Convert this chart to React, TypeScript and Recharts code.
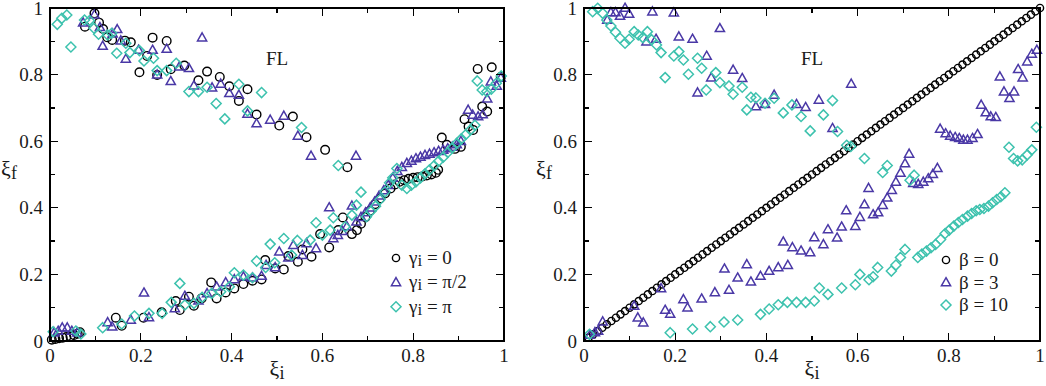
import { ScatterChart, Scatter, XAxis, YAxis } from 'recharts'

// tick values shared by both panels (major = labelled)
const tickValues = [0, 0.1, 0.2, 0.3, 0.4, 0.5, 0.6, 0.7, 0.8, 0.9, 1]
const majorTicks = [0, 0.2, 0.4, 0.6, 0.8, 1]

// ---- left panel: gamma_i series, [xi_i, xi_f]
const gamma0 = [
  [0.004, 0.004], [0.012, 0.006], [0.02, 0.008], [0.028, 0.01], [0.036, 0.012], [0.045, 0.014], [0.053, 0.018], [0.061, 0.022], [0.066, 0.026],
  [0.077, 0.944], [0.098, 0.984], [0.108, 0.956], [0.117, 0.937], [0.126, 0.912], [0.137, 0.904], [0.145, 0.07], [0.158, 0.046], [0.165, 0.902],
  [0.178, 0.897], [0.197, 0.807], [0.206, 0.07], [0.214, 0.856], [0.226, 0.911], [0.236, 0.799], [0.246, 0.086], [0.257, 0.901], [0.266, 0.816],
  [0.277, 0.12], [0.286, 0.093], [0.296, 0.827], [0.306, 0.133], [0.317, 0.106], [0.327, 0.783], [0.334, 0.128], [0.346, 0.809], [0.355, 0.176],
  [0.367, 0.128], [0.374, 0.793], [0.387, 0.146], [0.395, 0.765], [0.406, 0.158], [0.416, 0.721], [0.426, 0.171], [0.435, 0.756], [0.446, 0.181],
  [0.455, 0.68], [0.466, 0.185], [0.474, 0.243], [0.496, 0.218], [0.505, 0.647], [0.515, 0.215], [0.525, 0.255], [0.535, 0.674], [0.546, 0.238],
  [0.556, 0.275], [0.565, 0.612], [0.576, 0.253], [0.595, 0.321], [0.606, 0.574], [0.615, 0.281], [0.635, 0.333], [0.645, 0.371], [0.655, 0.522],
  [0.665, 0.321], [0.676, 0.333], [0.685, 0.352], [0.695, 0.372], [0.705, 0.391], [0.716, 0.411], [0.727, 0.428], [0.738, 0.443], [0.75, 0.458],
  [0.76, 0.47], [0.77, 0.478], [0.78, 0.483], [0.79, 0.487], [0.8, 0.49], [0.81, 0.492], [0.82, 0.494], [0.83, 0.497], [0.84, 0.5], [0.85, 0.505],
  [0.855, 0.514], [0.863, 0.611], [0.874, 0.589], [0.892, 0.577], [0.905, 0.583], [0.913, 0.666], [0.922, 0.644], [0.932, 0.634], [0.942, 0.817],
  [0.952, 0.704], [0.963, 0.689], [0.973, 0.822], [0.993, 0.793],
]
const gammaHalfPi = [
  [0.009, 0.025], [0.018, 0.03], [0.027, 0.04], [0.038, 0.04], [0.048, 0.03], [0.06, 0.025], [0.073, 0.956], [0.098, 0.98], [0.11, 0.942],
  [0.116, 0.886], [0.127, 0.056], [0.137, 0.043], [0.138, 0.923], [0.148, 0.936], [0.156, 0.902], [0.167, 0.847], [0.178, 0.063], [0.195, 0.874],
  [0.207, 0.145], [0.218, 0.071], [0.226, 0.874], [0.236, 0.8], [0.257, 0.877], [0.266, 0.78], [0.275, 0.098], [0.285, 0.824], [0.297, 0.135],
  [0.306, 0.819], [0.317, 0.767], [0.327, 0.121], [0.335, 0.911], [0.346, 0.143], [0.357, 0.761], [0.367, 0.163], [0.376, 0.772], [0.387, 0.176],
  [0.395, 0.744], [0.406, 0.185], [0.416, 0.739], [0.426, 0.193], [0.435, 0.682], [0.446, 0.19], [0.455, 0.653], [0.466, 0.195], [0.476, 0.228],
  [0.485, 0.664], [0.496, 0.221], [0.505, 0.268], [0.515, 0.676], [0.525, 0.25], [0.536, 0.288], [0.546, 0.616], [0.556, 0.258], [0.565, 0.293],
  [0.575, 0.556], [0.586, 0.278], [0.615, 0.401], [0.624, 0.308], [0.634, 0.318], [0.644, 0.33], [0.654, 0.344], [0.665, 0.406], [0.674, 0.556],
  [0.675, 0.358], [0.685, 0.372], [0.695, 0.386], [0.705, 0.4], [0.715, 0.418], [0.725, 0.436], [0.735, 0.452], [0.745, 0.468], [0.755, 0.49],
  [0.765, 0.51], [0.775, 0.522], [0.786, 0.534], [0.796, 0.541], [0.806, 0.548], [0.816, 0.553], [0.826, 0.558], [0.836, 0.562], [0.846, 0.566],
  [0.856, 0.57], [0.866, 0.574], [0.876, 0.578], [0.886, 0.583], [0.896, 0.59], [0.905, 0.6], [0.921, 0.694], [0.931, 0.679], [0.943, 0.674],
  [0.953, 0.68], [0.963, 0.728], [0.971, 0.779], [0.984, 0.766], [0.993, 0.79],
]
const gammaPi = [
  [0.007, 0.028], [0.016, 0.951], [0.026, 0.969], [0.037, 0.979], [0.046, 0.883], [0.057, 0.03], [0.068, 0.021], [0.076, 0.964], [0.087, 0.962],
  [0.097, 0.939], [0.107, 0.921], [0.116, 0.04], [0.127, 0.919], [0.136, 0.924], [0.147, 0.864], [0.158, 0.051], [0.167, 0.894], [0.176, 0.866],
  [0.186, 0.075], [0.197, 0.872], [0.207, 0.841], [0.218, 0.083], [0.228, 0.849], [0.236, 0.812], [0.247, 0.083], [0.257, 0.812], [0.267, 0.116],
  [0.278, 0.834], [0.286, 0.173], [0.297, 0.108], [0.306, 0.749], [0.317, 0.113], [0.327, 0.749], [0.335, 0.131], [0.346, 0.762], [0.356, 0.143],
  [0.366, 0.713], [0.376, 0.148], [0.385, 0.667], [0.395, 0.163], [0.406, 0.205], [0.416, 0.771], [0.426, 0.198], [0.435, 0.691], [0.446, 0.19],
  [0.455, 0.24], [0.466, 0.746], [0.475, 0.221], [0.485, 0.291], [0.495, 0.235], [0.515, 0.308], [0.532, 0.258], [0.545, 0.302], [0.554, 0.641],
  [0.573, 0.303], [0.586, 0.355], [0.6, 0.318], [0.617, 0.333], [0.624, 0.37], [0.635, 0.527], [0.65, 0.343], [0.665, 0.378], [0.675, 0.408],
  [0.685, 0.447], [0.697, 0.373], [0.707, 0.39], [0.717, 0.405], [0.727, 0.425], [0.738, 0.448], [0.748, 0.475], [0.755, 0.49], [0.764, 0.518],
  [0.775, 0.468], [0.786, 0.458], [0.796, 0.468], [0.806, 0.478], [0.816, 0.49], [0.826, 0.502], [0.836, 0.514], [0.846, 0.526], [0.856, 0.54],
  [0.866, 0.552], [0.876, 0.566], [0.886, 0.58], [0.896, 0.594], [0.906, 0.607], [0.916, 0.62], [0.926, 0.634], [0.936, 0.648], [0.941, 0.781],
  [0.952, 0.754], [0.962, 0.749], [0.972, 0.756], [0.983, 0.774], [0.994, 0.796],
]

// ---- right panel: beta series
// beta = 0: every point sits on the diagonal, xi_f equal to xi_i
const beta0Xi = [
  0.01, 0.02, 0.03, 0.04, 0.05, 0.06, 0.07, 0.08, 0.09, 0.1, 0.11, 0.12, 0.13, 0.14, 0.15, 0.16, 0.17, 0.18, 0.19, 0.2,
  0.21, 0.22, 0.23, 0.24, 0.25, 0.26, 0.27, 0.28, 0.29, 0.3, 0.31, 0.32, 0.33, 0.34, 0.35, 0.36, 0.37, 0.38, 0.39, 0.4,
  0.41, 0.42, 0.43, 0.44, 0.45, 0.46, 0.47, 0.48, 0.49, 0.5, 0.51, 0.52, 0.53, 0.54, 0.55, 0.56, 0.57, 0.58, 0.59, 0.6,
  0.61, 0.62, 0.63, 0.64, 0.65, 0.66, 0.67, 0.68, 0.69, 0.7, 0.71, 0.72, 0.73, 0.74, 0.75, 0.76, 0.77, 0.78, 0.79, 0.8,
  0.81, 0.82, 0.83, 0.84, 0.85, 0.86, 0.87, 0.88, 0.89, 0.9, 0.91, 0.92, 0.93, 0.94, 0.95, 0.96, 0.97, 0.98, 0.99, 1.0,
]
const beta3 = [
  [0.013, 0.018], [0.024, 0.026], [0.031, 0.03], [0.041, 0.058], [0.051, 0.964], [0.059, 0.987], [0.069, 0.987], [0.079, 0.976], [0.09, 1.0],
  [0.099, 0.982], [0.11, 0.105], [0.118, 0.07], [0.13, 0.055], [0.137, 0.899], [0.15, 0.989], [0.158, 0.907], [0.169, 0.158], [0.178, 0.093],
  [0.189, 0.081], [0.197, 0.986], [0.208, 0.914], [0.218, 0.125], [0.227, 0.1], [0.238, 0.907], [0.249, 0.746], [0.258, 0.127], [0.269, 0.856],
  [0.279, 0.791], [0.287, 0.146], [0.298, 0.939], [0.308, 0.217], [0.318, 0.153], [0.327, 0.814], [0.337, 0.19], [0.347, 0.789], [0.357, 0.23],
  [0.366, 0.178], [0.377, 0.704], [0.387, 0.195], [0.397, 0.711], [0.406, 0.21], [0.417, 0.739], [0.426, 0.221], [0.437, 0.298], [0.447, 0.228],
  [0.457, 0.281], [0.466, 0.711], [0.476, 0.271], [0.486, 0.702], [0.496, 0.266], [0.505, 0.311], [0.515, 0.724], [0.525, 0.29], [0.535, 0.335],
  [0.545, 0.639], [0.555, 0.31], [0.565, 0.343], [0.575, 0.392], [0.586, 0.772], [0.595, 0.345], [0.605, 0.372], [0.615, 0.41], [0.624, 0.459],
  [0.634, 0.38], [0.645, 0.386], [0.655, 0.408], [0.665, 0.43], [0.675, 0.453], [0.684, 0.478], [0.694, 0.505], [0.704, 0.533], [0.713, 0.562],
  [0.722, 0.474], [0.733, 0.471], [0.744, 0.478], [0.755, 0.488], [0.765, 0.501], [0.775, 0.519], [0.781, 0.637], [0.793, 0.623], [0.803, 0.616],
  [0.814, 0.612], [0.823, 0.609], [0.832, 0.604], [0.841, 0.604], [0.852, 0.609], [0.863, 0.621], [0.871, 0.709], [0.881, 0.686], [0.892, 0.674],
  [0.903, 0.672], [0.912, 0.794], [0.921, 0.749], [0.933, 0.729], [0.943, 0.749], [0.952, 0.816], [0.962, 0.791], [0.972, 0.839], [0.982, 0.862],
  [0.993, 0.874],
]
const beta10 = [
  [0.012, 0.02], [0.019, 0.989], [0.03, 0.999], [0.041, 0.984], [0.05, 0.964], [0.059, 0.946], [0.069, 0.927], [0.079, 0.909], [0.09, 0.894],
  [0.099, 0.906], [0.11, 0.929], [0.119, 0.919], [0.129, 0.911], [0.139, 0.929], [0.148, 0.905], [0.159, 0.889], [0.169, 0.866], [0.178, 0.791],
  [0.189, 0.025], [0.197, 0.856], [0.208, 0.869], [0.218, 0.844], [0.229, 0.801], [0.238, 0.036], [0.249, 0.849], [0.258, 0.819], [0.268, 0.754],
  [0.277, 0.043], [0.289, 0.806], [0.298, 0.776], [0.307, 0.057], [0.318, 0.766], [0.327, 0.741], [0.337, 0.063], [0.347, 0.762], [0.357, 0.694],
  [0.366, 0.732], [0.377, 0.73], [0.387, 0.08], [0.397, 0.714], [0.406, 0.096], [0.417, 0.729], [0.426, 0.109], [0.437, 0.685], [0.446, 0.116],
  [0.456, 0.709], [0.466, 0.116], [0.476, 0.674], [0.486, 0.116], [0.496, 0.631], [0.505, 0.12], [0.516, 0.159], [0.525, 0.679], [0.535, 0.14],
  [0.545, 0.722], [0.556, 0.629], [0.565, 0.159], [0.576, 0.588], [0.585, 0.584], [0.595, 0.169], [0.605, 0.2], [0.615, 0.548], [0.625, 0.184],
  [0.634, 0.193], [0.644, 0.221], [0.655, 0.506], [0.665, 0.527], [0.674, 0.21], [0.684, 0.228], [0.694, 0.251], [0.704, 0.275], [0.715, 0.483],
  [0.724, 0.498], [0.732, 0.251], [0.741, 0.261], [0.751, 0.27], [0.761, 0.28], [0.771, 0.29], [0.782, 0.305], [0.792, 0.323], [0.801, 0.333],
  [0.811, 0.345], [0.821, 0.356], [0.83, 0.365], [0.841, 0.375], [0.85, 0.383], [0.86, 0.391], [0.868, 0.395], [0.877, 0.398], [0.887, 0.405],
  [0.896, 0.415], [0.905, 0.425], [0.914, 0.433], [0.923, 0.445], [0.932, 0.582], [0.942, 0.548], [0.951, 0.541], [0.961, 0.544], [0.972, 0.559],
  [0.982, 0.574], [0.992, 0.642],
]

const leftLegend = ['0', 'π/2', 'π']
const rightLegend = ['β = 0', 'β = 3', 'β = 10']

const BLACK = '#000'
const PURPLE = '#4a38a6'
const TEAL = '#3dc2ae'
const INK = '#1a1a1a'
const FONT = 'Liberation Serif, DejaVu Serif, serif'

// plot boxes in page pixels (chart height 386, top margin 8, x-axis band 45)
const TOP = 8
const BOTTOM = 341
const LEFT_BOX = [50, 504]
const RIGHT_BOX = [584, 1040]

const toPts = (arr: number[][]) => arr.map(([x, y]) => ({ x, y }))

const fmt = (v: number) => (v === 0 ? '0' : v === 1 ? '1' : v.toFixed(1))
const isMajor = (v: number) => majorTicks.some((m) => Math.abs(m - v) < 1e-9)

// marker shapes
const circleShape = (r: number) => (p: any) => (
  <circle cx={p.cx} cy={p.cy} r={r} fill="none" stroke={BLACK} strokeWidth={1.4} />
)
const triShape = (p: any) => (
  <path
    d={`M${p.cx},${p.cy - 4.8}L${p.cx + 4.6},${p.cy + 3.3}L${p.cx - 4.6},${p.cy + 3.3}Z`}
    fill="none"
    stroke={PURPLE}
    strokeWidth={1.5}
  />
)
const diaShape = (p: any) => (
  <path
    d={`M${p.cx},${p.cy - 5}L${p.cx + 5},${p.cy}L${p.cx},${p.cy + 5}L${p.cx - 5},${p.cy}Z`}
    fill="none"
    stroke={TEAL}
    strokeWidth={1.5}
  />
)

// tick labels come from the axes
const BottomLabel = ({ x, y, payload }: any) =>
  isMajor(payload.value) ? (
    <text x={x} y={y + 21} textAnchor="middle" fontSize={19} fontFamily={FONT} fill={INK}>
      {fmt(payload.value)}
    </text>
  ) : null
const LeftLabel = ({ x, y, payload }: any) =>
  isMajor(payload.value) ? (
    <text x={x - 7} y={y + 6.5} textAnchor="end" fontSize={19} fontFamily={FONT} fill={INK}>
      {fmt(payload.value)}
    </text>
  ) : null

const xiLabel = (x: number, y: number, sub: string) => (
  <text x={x} y={y} textAnchor="middle" fontFamily={FONT} fill={INK} fontSize={22}>
    ξ<tspan fontSize={18} dy={3}>{sub}</tspan>
  </text>
)

const legendMarker = (kind: string, x: number, y: number) =>
  kind === 'c' ? circleShape(3.6)({ cx: x, cy: y }) : kind === 't' ? triShape({ cx: x, cy: y }) : diaShape({ cx: x, cy: y })

function axes(yWidth: number) {
  const common = {
    type: 'number' as const,
    domain: [0, 1],
    ticks: tickValues,
    interval: 0,
    tickSize: 0,
    tickMargin: 0,
    axisLine: false,
    tickLine: false,
  }
  return [
    <XAxis key="xb" xAxisId="b" dataKey="x" {...common} tick={<BottomLabel />} height={30} />,
    <YAxis key="yl" yAxisId="l" dataKey="y" {...common} tick={<LeftLabel />} width={yWidth} />,
  ]
}

// frame and inward ticks as plain positioned boxes on top of the panels
function Frame({ x0, x1 }: { x0: number; x1: number }) {
  const w = x1 - x0
  const h = BOTTOM - TOP
  const bar = (key: string, left: number, top: number, width: number, height: number) => (
    <div key={key} style={{ position: 'absolute', left, top, width, height, background: BLACK }} />
  )
  const marks: any[] = []
  tickValues.forEach((v, i) => {
    const len = isMajor(v) ? 8 : 5
    const px = x0 + v * w
    const py = BOTTOM - v * h
    marks.push(bar(`b${i}`, px - 0.7, BOTTOM - len, 1.4, len))
    marks.push(bar(`t${i}`, px - 0.7, TOP, 1.4, len))
    marks.push(bar(`l${i}`, x0, py - 0.7, len, 1.4))
    marks.push(bar(`r${i}`, x1 - len, py - 0.7, len, 1.4))
  })
  return (
    <>
      <div
        style={{
          position: 'absolute',
          left: x0 - 1,
          top: TOP - 1,
          width: w + 2,
          height: h + 2,
          border: `2px solid ${BLACK}`,
          boxSizing: 'border-box',
          pointerEvents: 'none',
        }}
      />
      {marks}
    </>
  )
}

export default function App() {
  const kinds = ['c', 't', 'd']
  return (
    <div style={{ position: 'absolute', left: 0, top: 0, width: 1046, height: 386, background: '#fff', fontFamily: FONT }}>
      <div style={{ position: 'absolute', left: 0, top: 0 }}>
        <ScatterChart width={520} height={386} margin={{ top: TOP, right: 16, bottom: 15, left: 0 }}>
          {axes(50)}
          <Scatter xAxisId="b" yAxisId="l" data={toPts(gamma0)} shape={circleShape(4.3)} isAnimationActive={false} />
          <Scatter xAxisId="b" yAxisId="l" data={toPts(gammaHalfPi)} shape={triShape} isAnimationActive={false} />
          <Scatter xAxisId="b" yAxisId="l" data={toPts(gammaPi)} shape={diaShape} isAnimationActive={false} />
          <text x={277} y={65} textAnchor="middle" fontFamily={FONT} fontSize={19} fill={INK}>FL</text>
          {xiLabel(277, 376, 'i')}
          {xiLabel(9, 176, 'f')}
          {leftLegend.map((v, i) => (
            <g key={v}>
              {legendMarker(kinds[i], 396, 258 + i * 24.4)}
              <text x={409} y={264 + i * 24.4} fontFamily={FONT} fontSize={19} fill={INK}>
                γ<tspan fontSize={17} dy={2}>i</tspan>
                <tspan dy={-2}>{` = ${v}`}</tspan>
              </text>
            </g>
          ))}
        </ScatterChart>
      </div>
      <div style={{ position: 'absolute', left: 530, top: 0 }}>
        <ScatterChart width={516} height={386} margin={{ top: TOP, right: 6, bottom: 15, left: 0 }}>
          {axes(54)}
          <Scatter xAxisId="b" yAxisId="l" data={beta0Xi.map((x) => ({ x, y: x }))} shape={circleShape(3.6)} isAnimationActive={false} />
          <Scatter xAxisId="b" yAxisId="l" data={toPts(beta3)} shape={triShape} isAnimationActive={false} />
          <Scatter xAxisId="b" yAxisId="l" data={toPts(beta10)} shape={diaShape} isAnimationActive={false} />
          <text x={282} y={65} textAnchor="middle" fontFamily={FONT} fontSize={19} fill={INK}>FL</text>
          {xiLabel(282, 376, 'i')}
          {xiLabel(14, 176, 'f')}
          {rightLegend.map((v, i) => (
            <g key={v}>
              {legendMarker(kinds[i], 416, 260 + i * 22.5)}
              <text x={429} y={266 + i * 22.5} fontFamily={FONT} fontSize={19} fill={INK}>
                {v}
              </text>
            </g>
          ))}
        </ScatterChart>
      </div>
      <Frame x0={LEFT_BOX[0]} x1={LEFT_BOX[1]} />
      <Frame x0={RIGHT_BOX[0]} x1={RIGHT_BOX[1]} />
    </div>
  )
}
